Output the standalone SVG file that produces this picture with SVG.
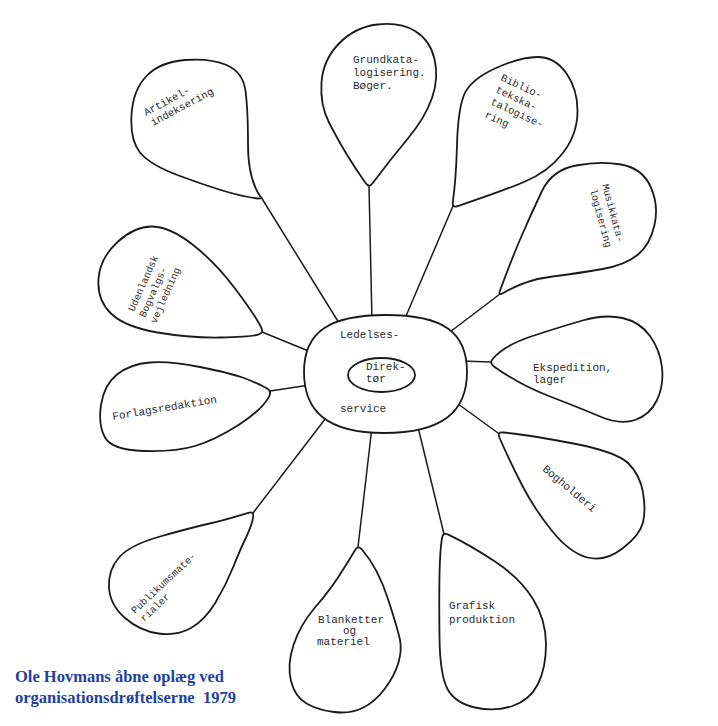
<svg xmlns="http://www.w3.org/2000/svg" width="718" height="726" viewBox="0 0 718 726">
<style>
.petal{fill:#fff;stroke:#1a1a1a;stroke-width:1.8;stroke-linejoin:round}
.conn{stroke:#1a1a1a;stroke-width:1.5;fill:none;stroke-linecap:round}
.t{font-family:"Liberation Mono","DejaVu Sans Mono",monospace;font-size:11px;fill:#2a2a2a}
.s10{font-size:10px}
.cap{font-family:"Liberation Serif","Times New Roman",serif;font-weight:bold;font-size:16.5px;fill:#1f3f9f;white-space:pre}
</style>
<rect width="718" height="726" fill="#fff"/>
<g id="connectors">
<line class="conn" x1="261" y1="197" x2="339" y2="323"/>
<line class="conn" x1="369" y1="186" x2="372" y2="322"/>
<line class="conn" x1="453" y1="206" x2="403" y2="323"/>
<line class="conn" x1="500" y1="294" x2="442" y2="338"/>
<line class="conn" x1="262" y1="332" x2="311" y2="352"/>
<line class="conn" x1="270" y1="391" x2="310" y2="385"/>
<line class="conn" x1="491" y1="362" x2="461" y2="361"/>
<line class="conn" x1="498" y1="433" x2="454" y2="401"/>
<line class="conn" x1="444" y1="534" x2="417" y2="423"/>
<line class="conn" x1="358" y1="547" x2="372" y2="427"/>
<line class="conn" x1="253" y1="513" x2="329" y2="414"/>
</g>
<g id="center">
<path class="petal" d="M386,315 C443,315 467,332 467,372 C467,412 442,433 384,433 C328,433 304,412 304,372 C304,332 329,315 386,315 Z"/>
<ellipse class="petal" cx="381.5" cy="375" rx="33.5" ry="17"/>
<text class="t" x="340" y="338">Ledelses-</text>
<text class="t" x="366" y="370">Direk-</text>
<text class="t" x="366" y="382">tør</text>
<text class="t" x="340" y="412">service</text>
</g>
<g id="artikel">
<path class="petal" d="M259.8,195.7 Q248,178 248,144 Q248,110 245.5,91 Q243,72 226.5,65 Q210,58 185,60 Q160,62 146.5,76 Q133,90 131.5,115 Q130,140 140,152.5 Q150,165 180,176 Q210,187 227.5,192 Q245,197 258,198.5 Q262,199 259.8,195.7 Z"/>
<text class="t" style="font-size:10.5px" transform="translate(146,116) rotate(-28)">Artikel-</text>
<text class="t" style="font-size:10.5px" transform="translate(153,126) rotate(-28)">indeksering</text>
</g>
<g id="grundkat">
<path class="petal" d="M372.6,183.2 Q390,160 407.5,139 Q425,118 432,98 Q439,78 434.5,59 Q430,40 415,31 Q400,22 377.5,24.5 Q355,27 339,43.5 Q323,60 321.5,82.5 Q320,105 329,122.5 Q338,140 346.5,154 Q355,168 365.6,183.1 Q369,188 372.6,183.2 Z"/>
<text class="t" x="353" y="63">Grundkata-</text>
<text class="t" x="353" y="76">logisering.</text>
<text class="t" x="353" y="89">Bøger.</text>
</g>
<g id="bibliotek">
<path class="petal" d="M452.8,202.1 Q456,180 457,145 Q458,110 464,95 Q470,80 495,68.5 Q520,57 537.5,57 Q555,57 566.5,73.5 Q578,90 577.5,112.5 Q577,135 562.5,153.5 Q548,172 524,182 Q500,192 457.7,206.1 Q452,208 452.8,202.1 Z"/>
<text class="t" style="font-size:10.5px" transform="translate(500,80) rotate(25)">Biblio-</text>
<text class="t" style="font-size:10.5px" transform="translate(495,92) rotate(25)">tekska-</text>
<text class="t" style="font-size:10.5px" transform="translate(490,104) rotate(25)">talogise-</text>
<text class="t" style="font-size:10.5px" transform="translate(484,117) rotate(25)">ring</text>
</g>
<g id="musik">
<path class="petal" d="M500.1,290.4 Q512,258 522,235 Q532,212 542,191 Q552,170 576,165.5 Q600,161 621,164.5 Q642,168 650.5,186.5 Q659,205 654.5,225 Q650,245 637.5,255 Q625,265 602.5,269 Q580,273 552.5,276.5 Q525,280 503.2,292.9 Q498,296 500.1,290.4 Z"/>
<text class="t s10" transform="translate(602,185) rotate(75)">Musikkata-</text>
<text class="t s10" transform="translate(590,190) rotate(75)">logisering</text>
</g>
<g id="udenlandsk">
<path class="petal" d="M261.3,327.6 Q255,315 235,288.5 Q215,262 192.5,244.5 Q170,227 152.5,226.5 Q135,226 117.5,242 Q100,258 98.5,279 Q97,300 111,313.5 Q125,327 157.5,332.5 Q190,338 220,337.5 Q250,337 258.2,334.6 Q264,333 261.3,327.6 Z"/>
<text class="t s10" transform="translate(134,312) rotate(-66)">Udenlandsk</text>
<text class="t s10" transform="translate(145,318) rotate(-66)">Bogvalgs-</text>
<text class="t s10" transform="translate(156,324) rotate(-66)">vejledning</text>
</g>
<g id="forlag">
<path class="petal" d="M266.7,388.2 Q255,382 242.5,377.5 Q230,373 200,367 Q170,361 150,362.5 Q130,364 117,374.5 Q104,385 101,405 Q98,425 105,437.5 Q112,450 143.5,451 Q175,452 195,446 Q215,440 238.5,425 Q262,410 269.2,396.3 Q272,391 266.7,388.2 Z"/>
<text class="t" transform="translate(113,420) rotate(-9.5)">Forlagsredaktion</text>
</g>
<g id="ekspedition">
<path class="petal" d="M493,358.5 Q505,345 532.5,336 Q560,327 582.5,320.5 Q605,314 622.5,318 Q640,322 650,336 Q660,350 662,367.5 Q664,385 657,400 Q650,415 635,420 Q620,425 600,416.5 Q580,408 550,396.5 Q520,385 493.9,366.5 Q489,363 493,358.5 Z"/>
<text class="t" x="533" y="371">Ekspedition,</text>
<text class="t" x="533" y="383">lager</text>
</g>
<g id="bogholderi">
<path class="petal" d="M503,432.5 Q530,435 573.5,443.5 Q617,452 628.5,463.5 Q640,475 643,492.5 Q646,510 643,522.5 Q640,535 622.5,548.5 Q605,562 587.5,557.5 Q570,553 552.5,531.5 Q535,510 522.5,486 Q510,462 499.4,437.5 Q497,432 503,432.5 Z"/>
<text class="t" transform="translate(542,470) rotate(40)">Bogholderi</text>
</g>
<g id="grafisk">
<path class="petal" d="M448.4,534.6 Q470,545 495,561.5 Q520,578 533,599 Q546,620 546,644 Q546,668 538,684 Q530,700 512.5,706 Q495,712 475,707.5 Q455,703 447.5,689 Q440,675 439.5,637.5 Q439,600 439.5,575 Q440,550 442,537.9 Q443,532 448.4,534.6 Z"/>
<text class="t" x="449" y="609">Grafisk</text>
<text class="t" x="449" y="623">produktion</text>
</g>
<g id="blanketter">
<path class="petal" d="M361.9,549.5 Q378,568 388,599 Q398,630 400,640 Q402,650 398.5,662.5 Q395,675 385,688.5 Q375,702 362.5,708 Q350,714 334,712 Q318,710 306.5,703.5 Q295,697 291,681 Q287,665 293.5,645 Q300,625 315,607.5 Q330,590 339,576 Q348,562 355,550.2 Q358,545 361.9,549.5 Z"/>
<text class="t" x="318" y="623">Blanketter</text>
<text class="t" x="343" y="634">og</text>
<text class="t" x="317" y="645">materiel</text>
</g>
<g id="publikum">
<path class="petal" d="M253.2,516.9 Q252,525 246,537.5 Q240,550 233,567.5 Q226,585 215.5,602.5 Q205,620 191,628 Q177,636 158.5,633.5 Q140,631 125,618 Q110,605 109,587.5 Q108,570 119,557.5 Q130,545 160,536.5 Q190,528 207.5,524 Q225,520 248.3,512.8 Q254,511 253.2,516.9 Z"/>
<text class="t s10" transform="translate(135,614) rotate(-43)">Publikumsmate-</text>
<text class="t s10" transform="translate(144,622) rotate(-43)">rialer</text>
</g>
<g id="caption">
<text class="cap" x="15" y="682">Ole Hovmans åbne oplæg ved</text>
<text class="cap" x="15" y="703" xml:space="preserve">organisationsdrøftelserne  1979</text>
</g>
</svg>
